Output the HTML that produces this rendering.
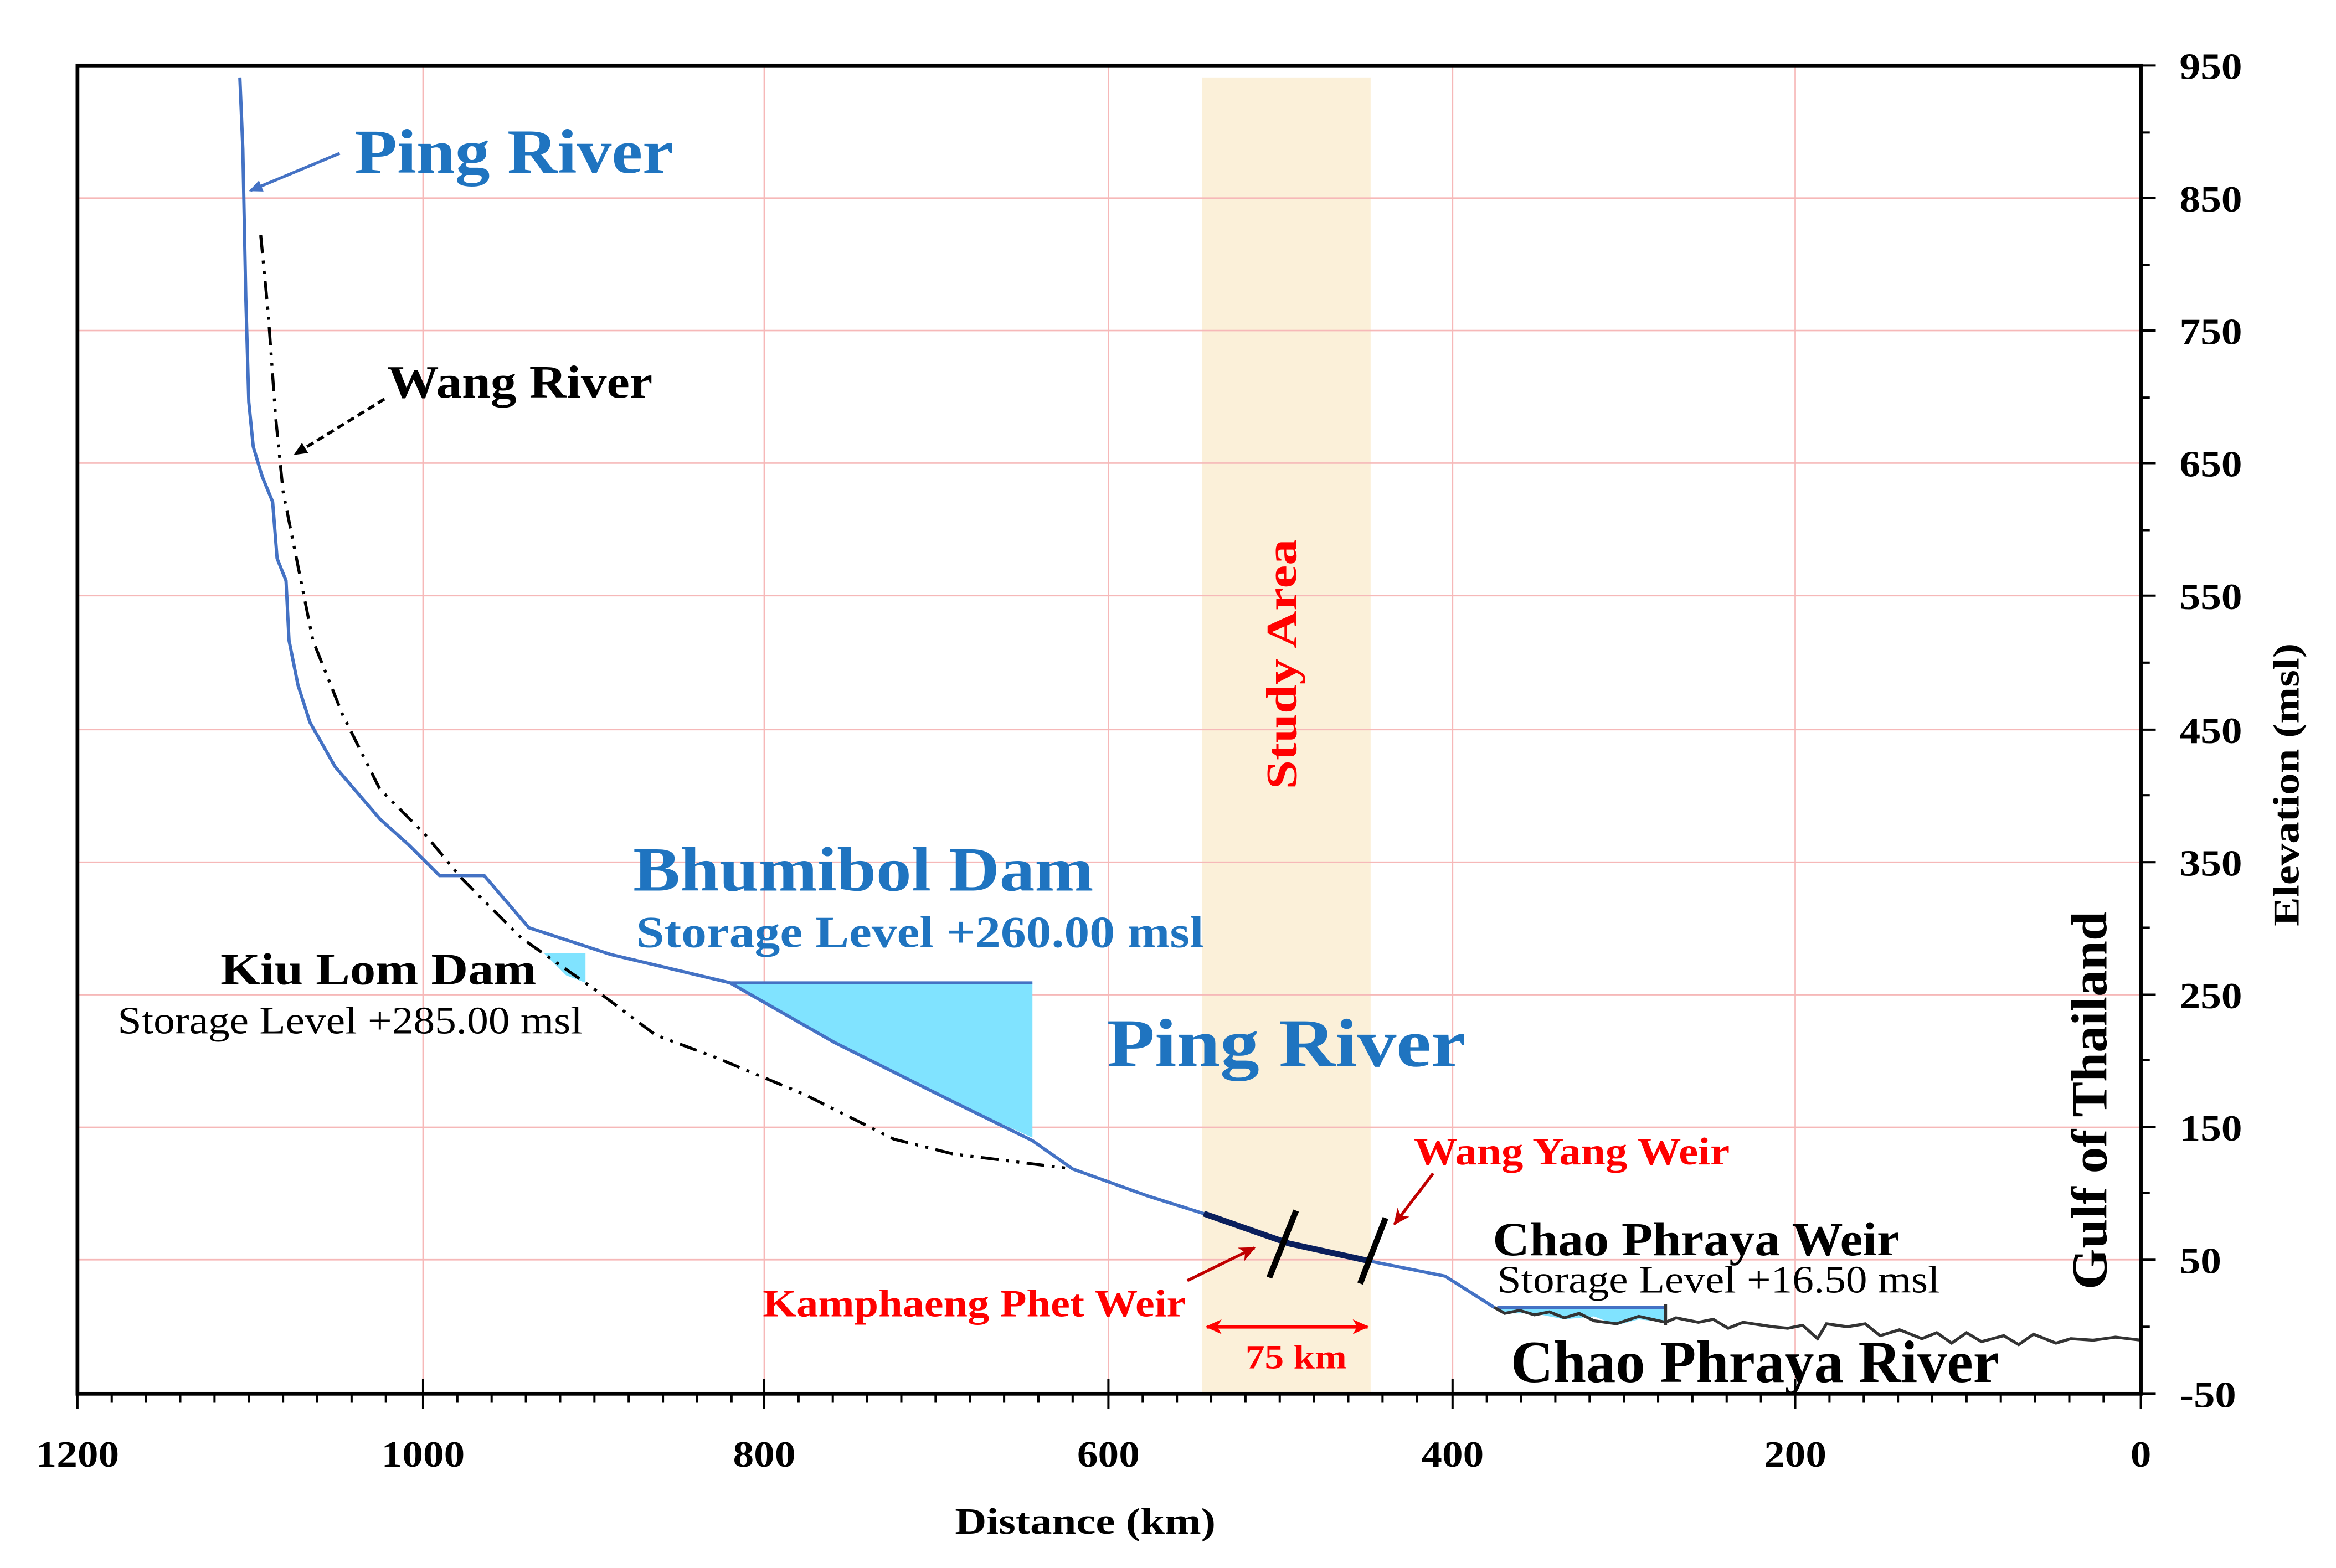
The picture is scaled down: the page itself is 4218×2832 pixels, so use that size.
<!DOCTYPE html>
<html><head><meta charset="utf-8">
<style>
html,body{margin:0;padding:0;background:#fff;}
svg{display:block;width:4218px;height:2832px;}
text{font-family:"Liberation Serif",serif;}
</style></head>
<body>
<svg viewBox="0 0 1568 1053" preserveAspectRatio="none" xmlns="http://www.w3.org/2000/svg">
<defs>
<marker id="ab" markerWidth="10" markerHeight="10" refX="8" refY="5" orient="auto" markerUnits="userSpaceOnUse"><path d="M0,1 L9,5 L0,9 Z" fill="#4472C4"/></marker>
<marker id="ak" markerWidth="10" markerHeight="10" refX="8" refY="5" orient="auto" markerUnits="userSpaceOnUse"><path d="M0,1 L9,5 L0,9 Z" fill="#000"/></marker>
<marker id="ar" markerWidth="12" markerHeight="12" refX="10" refY="6" orient="auto" markerUnits="userSpaceOnUse"><path d="M0,1 L11,6 L0,11 L3,6 Z" fill="#C00000"/></marker>
<marker id="ar2" markerWidth="12" markerHeight="12" refX="10" refY="6" orient="auto-start-reverse" markerUnits="userSpaceOnUse"><path d="M0,1 L11,6 L0,11 L3,6 Z" fill="#FF0000"/></marker>
</defs>
<rect x="807" y="52" width="113" height="884" fill="#FBF0D9"/>
<g stroke="#F6B8B8" stroke-width="1">
<line x1="284" y1="44" x2="284" y2="936"/><line x1="513" y1="44" x2="513" y2="936"/><line x1="744" y1="44" x2="744" y2="936"/><line x1="975" y1="44" x2="975" y2="936"/><line x1="1205" y1="44" x2="1205" y2="936"/>
<line x1="52" y1="133" x2="1437" y2="133"/><line x1="52" y1="222" x2="1437" y2="222"/><line x1="52" y1="311" x2="1437" y2="311"/><line x1="52" y1="400" x2="1437" y2="400"/><line x1="52" y1="490" x2="1437" y2="490"/><line x1="52" y1="579" x2="1437" y2="579"/><line x1="52" y1="668" x2="1437" y2="668"/><line x1="52" y1="757" x2="1437" y2="757"/><line x1="52" y1="846" x2="1437" y2="846"/>
</g>
<polygon points="490,660 693,660 693,764 640,740 560,700" fill="#80E3FF"/>
<line x1="490" y1="660" x2="693" y2="660" stroke="#4472C4" stroke-width="2"/>
<polygon points="365,640 393,640 393,660 380,655" fill="#80E3FF"/>
<polygon points="1005,878 1118,878 1118,888 1100,886 1085,890 1070,884 1050,886 1030,882 1010,882" fill="#80E3FF"/>
<line x1="1005" y1="878" x2="1118" y2="878" stroke="#4472C4" stroke-width="2"/>
<line x1="1118" y1="876" x2="1118" y2="890" stroke="#333" stroke-width="2"/>
<polyline points="175,158 180,210 185,280 190,330 200,380 210,430 230,480 255,530 285,560 310,590 350,630 400,665 440,695 480,710 540,735 600,765 640,775 720,785" fill="none" stroke="#000" stroke-width="2" stroke-dasharray="12,5,2,5,2,5"/>
<polyline points="161,52 163,100 165,200 167,270 170,300 176,320 183,337 186,375 192,390 194,430 200,460 208,485 225,515 255,550 275,568 295,588 325,588 355,623 410,641 490,660 560,700 640,740 693,766 720,785 770,803 808,815" fill="none" stroke="#4472C4" stroke-width="2.2"/>
<polyline points="920,847 970,857 1003,878" fill="none" stroke="#4472C4" stroke-width="2.2"/>
<polyline points="1003,878 1010,882 1020,880 1030,883 1040,881 1050,885 1060,882 1070,887 1085,889 1100,884 1118,888 1125,885 1140,888 1150,886 1160,892 1170,888 1190,891 1200,892 1210,890 1220,899 1226,889 1240,891 1252,889 1262,897 1275,893 1290,899 1300,895 1310,902 1320,895 1330,901 1345,897 1355,903 1365,896 1380,902 1390,899 1405,900 1420,898 1437,900" fill="none" stroke="#333" stroke-width="2"/>
<polyline points="808,815 865,835 920,847" fill="none" stroke="#0A1F5C" stroke-width="4"/>
<line x1="852" y1="858" x2="870" y2="813" stroke="#000" stroke-width="4"/>
<line x1="913" y1="862" x2="930" y2="818" stroke="#000" stroke-width="4"/>
<rect x="52" y="44" width="1385" height="892" fill="none" stroke="#000" stroke-width="2.5"/>
<g stroke="#000" stroke-width="1.5">
<path d="M52,936v10M75,936v6M98,936v6M121,936v6M144,936v6M167,936v6M190,936v6M213,936v6M236,936v6M259,936v6M284,926v20M307,936v6M330,936v6M353,936v6M376,936v6M399,936v6M422,936v6M445,936v6M468,936v6M491,936v6M513,926v20M536,936v6M559,936v6M582,936v6M605,936v6M628,936v6M651,936v6M674,936v6M697,936v6M720,936v6M744,926v20M767,936v6M790,936v6M813,936v6M836,936v6M859,936v6M882,936v6M905,936v6M928,936v6M951,936v6M975,926v20M998,936v6M1021,936v6M1044,936v6M1067,936v6M1090,936v6M1113,936v6M1136,936v6M1159,936v6M1182,936v6M1205,926v20M1228,936v6M1251,936v6M1274,936v6M1297,936v6M1320,936v6M1343,936v6M1366,936v6M1389,936v6M1412,936v6M1437,936v10"/>
<path d="M1437,44h10M1437,89h6M1437,133h10M1437,178h6M1437,222h10M1437,267h6M1437,311h10M1437,356h6M1437,400h10M1437,445h6M1437,490h10M1437,534h6M1437,579h10M1437,623h6M1437,668h10M1437,712h6M1437,757h10M1437,801h6M1437,846h10M1437,891h6M1437,936h10"/>
</g>
<g font-size="25" font-weight="bold" fill="#000" lengthAdjust="spacingAndGlyphs">
<text x="1463" y="53" textLength="42" lengthAdjust="spacingAndGlyphs">950</text><text x="1463" y="142" textLength="42" lengthAdjust="spacingAndGlyphs">850</text><text x="1463" y="231" textLength="42" lengthAdjust="spacingAndGlyphs">750</text><text x="1463" y="320" textLength="42" lengthAdjust="spacingAndGlyphs">650</text><text x="1463" y="409" textLength="42" lengthAdjust="spacingAndGlyphs">550</text><text x="1463" y="499" textLength="42" lengthAdjust="spacingAndGlyphs">450</text><text x="1463" y="588" textLength="42" lengthAdjust="spacingAndGlyphs">350</text><text x="1463" y="677" textLength="42" lengthAdjust="spacingAndGlyphs">250</text><text x="1463" y="766" textLength="42" lengthAdjust="spacingAndGlyphs">150</text><text x="1463" y="855" textLength="28" lengthAdjust="spacingAndGlyphs">50</text><text x="1463" y="945" textLength="38" lengthAdjust="spacingAndGlyphs">-50</text>
<text x="24" y="985" textLength="56" lengthAdjust="spacingAndGlyphs">1200</text><text x="256" y="985" textLength="56" lengthAdjust="spacingAndGlyphs">1000</text><text x="492" y="985" textLength="42" lengthAdjust="spacingAndGlyphs">800</text><text x="723" y="985" textLength="42" lengthAdjust="spacingAndGlyphs">600</text><text x="954" y="985" textLength="42" lengthAdjust="spacingAndGlyphs">400</text><text x="1184" y="985" textLength="42" lengthAdjust="spacingAndGlyphs">200</text><text x="1430" y="985" textLength="14" lengthAdjust="spacingAndGlyphs">0</text>
<text x="641" y="1030" textLength="175" lengthAdjust="spacingAndGlyphs">Distance (km)</text>
<text transform="translate(1543,622) rotate(-90)" textLength="190" lengthAdjust="spacingAndGlyphs">Elevation (msl)</text>
</g>
<text x="238" y="116" font-size="42" font-weight="bold" fill="#1F74C0" textLength="214" lengthAdjust="spacingAndGlyphs">Ping River</text>
<line x1="228" y1="103" x2="168" y2="128" stroke="#4472C4" stroke-width="2" marker-end="url(#ab)"/>
<text x="260" y="267" font-size="31" font-weight="bold" fill="#000" textLength="178" lengthAdjust="spacingAndGlyphs">Wang River</text>
<line x1="258" y1="268" x2="198" y2="305" stroke="#000" stroke-width="2" stroke-dasharray="5,3" marker-end="url(#ak)"/>
<text x="425" y="598" font-size="42" font-weight="bold" fill="#1F74C0" textLength="309" lengthAdjust="spacingAndGlyphs">Bhumibol Dam</text>
<text x="427" y="636" font-size="30" font-weight="bold" fill="#1F74C0" textLength="381" lengthAdjust="spacingAndGlyphs">Storage Level +260.00 msl</text>
<text x="148" y="661" font-size="30" font-weight="bold" fill="#000" textLength="212" lengthAdjust="spacingAndGlyphs">Kiu Lom Dam</text>
<text x="79" y="694" font-size="26" fill="#000" textLength="312" lengthAdjust="spacingAndGlyphs">Storage Level +285.00 msl</text>
<text x="743" y="716" font-size="46" font-weight="bold" fill="#1F74C0" textLength="241" lengthAdjust="spacingAndGlyphs">Ping River</text>
<text transform="translate(870,530) rotate(-90)" font-size="29" font-weight="bold" fill="#FF0000" textLength="168" lengthAdjust="spacingAndGlyphs">Study Area</text>
<text x="949" y="782" font-size="26" font-weight="bold" fill="#FF0000" textLength="212" lengthAdjust="spacingAndGlyphs">Wang Yang Weir</text>
<line x1="962" y1="788" x2="936" y2="822" stroke="#C00000" stroke-width="2" marker-end="url(#ar)"/>
<text x="512" y="884" font-size="26" font-weight="bold" fill="#FF0000" textLength="284" lengthAdjust="spacingAndGlyphs">Kamphaeng Phet Weir</text>
<line x1="797" y1="860" x2="842" y2="838" stroke="#C00000" stroke-width="2" marker-end="url(#ar)"/>
<line x1="810" y1="891" x2="918" y2="891" stroke="#FF0000" stroke-width="2.5" marker-start="url(#ar2)" marker-end="url(#ar2)"/>
<text x="836" y="919" font-size="23" font-weight="bold" fill="#FF0000" textLength="68" lengthAdjust="spacingAndGlyphs">75 km</text>
<text x="1002" y="843" font-size="32" font-weight="bold" fill="#000" textLength="273" lengthAdjust="spacingAndGlyphs">Chao Phraya Weir</text>
<text x="1005" y="868" font-size="26" fill="#000" textLength="297" lengthAdjust="spacingAndGlyphs">Storage Level +16.50 msl</text>
<text x="1014" y="928" font-size="40" font-weight="bold" fill="#000" textLength="328" lengthAdjust="spacingAndGlyphs">Chao Phraya River</text>
<text transform="translate(1414,866) rotate(-90)" font-size="34" font-weight="bold" fill="#000" textLength="254" lengthAdjust="spacingAndGlyphs">Gulf of Thailand</text>
</svg>
</body></html>
